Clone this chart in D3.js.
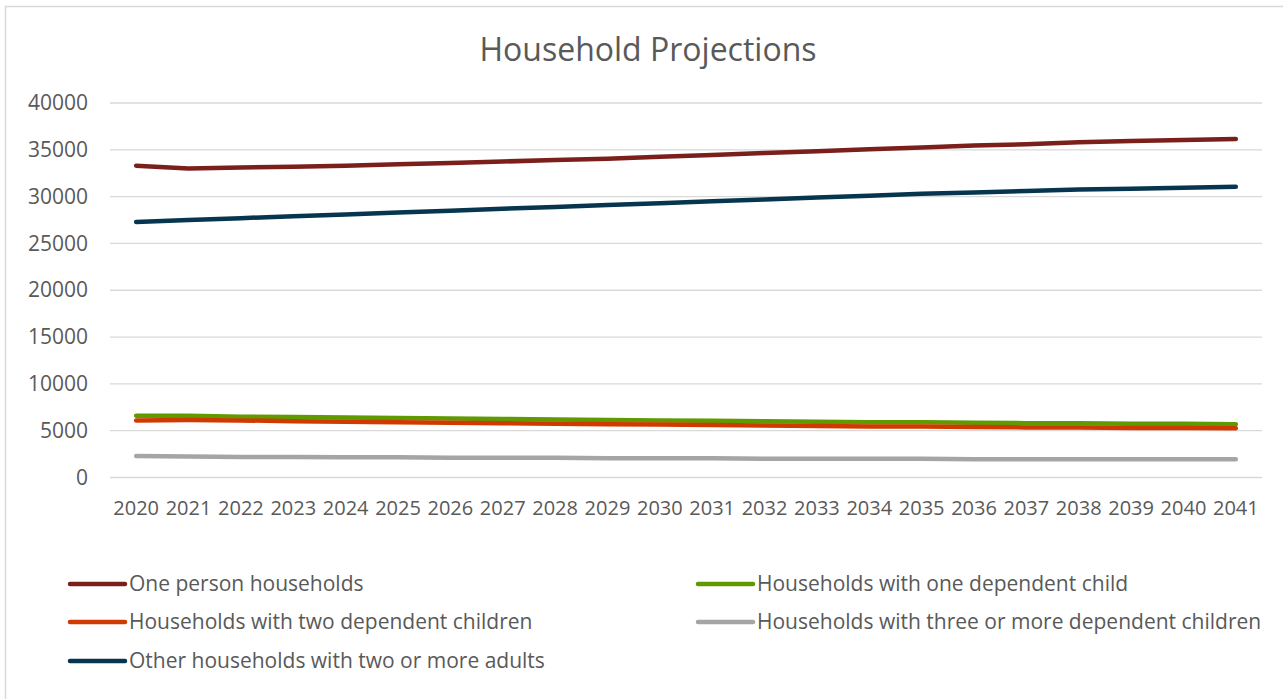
<!DOCTYPE html>
<html>
<head>
<meta charset="utf-8">
<script src="https://cdn.jsdelivr.net/npm/d3@7"></script>
<style>
  html, body { margin: 0; padding: 0; background: #fff; }
  svg { display: block; font-family: "Open Sans", sans-serif; }
</style>
</head>
<body>
<svg id="chart" width="1283" height="699"></svg>
<script>
// Projected household counts by household type, 2020–2041
const years = ["2020","2021","2022","2023","2024","2025","2026","2027","2028","2029","2030",
               "2031","2032","2033","2034","2035","2036","2037","2038","2039","2040","2041"];

const onePerson = [33300, 33000, 33100, 33200, 33300, 33450, 33600, 33750, 33900, 34050, 34250,
                   34450, 34650, 34850, 35050, 35250, 35450, 35600, 35800, 35950, 36050, 36150];
const oneChild = [6600, 6600, 6500, 6450, 6400, 6350, 6300, 6250, 6200, 6150, 6100,
                  6050, 6000, 5950, 5900, 5900, 5850, 5800, 5800, 5750, 5750, 5700];
const twoChildren = [6100, 6150, 6100, 6000, 5950, 5900, 5850, 5800, 5750, 5700, 5650,
                     5600, 5550, 5500, 5450, 5450, 5400, 5350, 5350, 5300, 5300, 5250];
const threePlusChildren = [2300, 2250, 2200, 2200, 2150, 2150, 2100, 2100, 2100, 2050, 2050,
                           2050, 2000, 2000, 2000, 2000, 1950, 1950, 1950, 1950, 1950, 1950];
const otherAdults = [27300, 27500, 27700, 27900, 28100, 28300, 28500, 28700, 28900, 29100, 29300,
                     29500, 29700, 29900, 30100, 30300, 30450, 30600, 30750, 30850, 30950, 31050];

const yTicks = [0, 5000, 10000, 15000, 20000, 25000, 30000, 35000, 40000];

const series = [
  { name: "One person households", values: onePerson, color: "#7B1F1B" },
  { name: "Households with one dependent child", values: oneChild, color: "#5F9A00" },
  { name: "Households with two dependent children", values: twoChildren, color: "#D03A00" },
  { name: "Households with three or more dependent children", values: threePlusChildren, color: "#A5A5A5" },
  { name: "Other households with two or more adults", values: otherAdults, color: "#06364F" }
];

const svg = d3.select("#chart");
const textColor = "#595959";

// chart frame
svg.append("rect")
  .attr("x", 5.5).attr("y", 6.5)
  .attr("width", 1300).attr("height", 720)
  .attr("fill", "#fff").attr("stroke", "#D9D9D9").attr("stroke-width", 1.5);

const plot = { left: 110, right: 1262, top: 103, bottom: 477.5 };

const x = d3.scaleBand().domain(years).range([plot.left, plot.right]);
const y = d3.scaleLinear().domain([0, 40000]).range([plot.bottom, plot.top]);

// title
svg.append("text")
  .attr("x", 648).attr("y", 61)
  .attr("text-anchor", "middle")
  .attr("fill", textColor)
  .style("font-size", "32px")
  .text("Household Projections");

// gridlines
svg.append("g")
  .selectAll("line")
  .data(yTicks)
  .join("line")
  .attr("x1", plot.left).attr("x2", plot.right)
  .attr("y1", d => y(d)).attr("y2", d => y(d))
  .attr("stroke", "#D9D9D9").attr("stroke-width", 1.3);

// y axis labels
const yAxis = svg.append("g")
  .attr("transform", `translate(${plot.left - 20},0)`)
  .call(d3.axisLeft(y).tickValues(yTicks).tickFormat(d3.format("d")).tickSize(0).tickPadding(2));
yAxis.select(".domain").remove();
yAxis.selectAll("text")
  .attr("fill", textColor)
  .style("font-family", "'Open Sans', sans-serif")
  .style("font-size", "21px");

// x axis labels
const xAxis = svg.append("g")
  .attr("transform", `translate(0,${plot.bottom + 21})`)
  .call(d3.axisBottom(x).tickSize(0).tickPadding(2));
xAxis.select(".domain").remove();
xAxis.selectAll("text")
  .attr("fill", textColor)
  .style("font-family", "'Open Sans', sans-serif")
  .style("font-size", "20px");

// series lines
const line = d3.line()
  .x((d, i) => x(years[i]) + x.bandwidth() / 2)
  .y(d => y(d));

svg.append("g")
  .selectAll("path")
  .data(series)
  .join("path")
  .attr("d", d => line(d.values))
  .attr("fill", "none")
  .attr("stroke", d => d.color)
  .attr("stroke-width", 4.5)
  .attr("stroke-linecap", "round")
  .attr("stroke-linejoin", "round");

// legend: two columns
const legendPos = [
  { x: 70, y: 584 }, { x: 698, y: 584 },
  { x: 70, y: 622 }, { x: 698, y: 622 },
  { x: 70, y: 661 }
];
const legend = svg.append("g")
  .selectAll("g")
  .data(series)
  .join("g")
  .attr("transform", (d, i) => `translate(${legendPos[i].x},${legendPos[i].y})`);
legend.append("line")
  .attr("x1", 0).attr("x2", 55)
  .attr("stroke", d => d.color)
  .attr("stroke-width", 4.5)
  .attr("stroke-linecap", "round");
legend.append("text")
  .attr("x", 59).attr("dy", "0.35em")
  .attr("fill", textColor)
  .style("font-size", "21px")
  .text(d => d.name);
</script>
</body>
</html>
